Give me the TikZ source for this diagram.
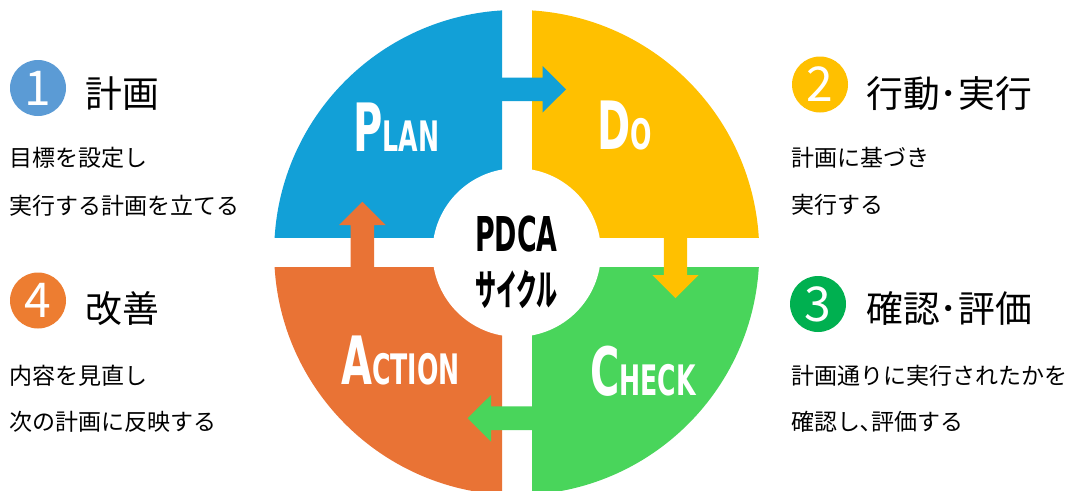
\documentclass[tikz,border=0pt]{standalone}
\usepackage{fontspec}
\usepackage{graphicx}
\newfontfamily\jp{Noto Sans CJK JP}
\newfontfamily\dv{DejaVu Sans}
\definecolor{qblue}{HTML}{12A0D7}
\definecolor{qyellow}{HTML}{FFC000}
\definecolor{qgreen}{HTML}{49D55B}
\definecolor{qorange}{HTML}{E97335}
\definecolor{dblue}{HTML}{5B9BD5}
\definecolor{dyellow}{HTML}{FFC000}
\definecolor{dgreen}{HTML}{00B050}
\definecolor{dorange}{HTML}{ED7D31}
\newcommand\capbig[1]{{\fontsize{50pt}{50pt}\selectfont #1}}
\newcommand\capsmall[1]{{\fontsize{31.5pt}{31.5pt}\selectfont #1}}
\newcommand\qword[1]{\scalebox{0.6}[1]{\dv\bfseries #1}}
\tikzset{
  body/.style={anchor=base west, inner sep=0pt, font=\jp\fontsize{17.25pt}{17.25pt}\selectfont},
  heading/.style={anchor=base west, inner sep=0pt, font=\jp\fontsize{27.6pt}{27.6pt}\selectfont},
  numdisc/.style={circle, minimum size=42pt, inner sep=0pt, text=white, font=\jp\fontsize{36pt}{36pt}\selectfont},
  qlabel/.style={anchor=base west, inner sep=0pt, text=white},
  centertext/.style={anchor=base, inner sep=0pt, text=black},
}
\begin{document}
\begin{tikzpicture}[x=0.75pt,y=-0.75pt]
\useasboundingbox (0,0) rectangle (1074,490);
\fill[white] (0,0) rectangle (1074,490);
% quadrants
\begin{scope}
  \clip (0,0) rectangle (502,237.5);
  \fill[qblue] (516.7,252.5) circle[radius=181.9pt];
\end{scope}
\begin{scope}
  \clip (532,0) rectangle (1074,237.5);
  \fill[qyellow] (516.7,252.5) circle[radius=181.9pt];
\end{scope}
\begin{scope}
  \clip (532,267.5) rectangle (1074,490);
  \fill[qgreen] (516.7,252.5) circle[radius=181.9pt];
\end{scope}
\begin{scope}
  \clip (0,267.5) rectangle (502,490);
  \fill[qorange] (516.7,252.5) circle[radius=181.9pt];
\end{scope}
\fill[white] (516.7,252.5) circle[radius=63.2pt];
% arrows
\fill[qblue] (500,77.5) -- (542.5,77.5) -- (542.5,66) -- (566,89.3) -- (542.5,112.6) -- (542.5,101) -- (500,101) -- cycle;
\fill[qyellow] (663.8,235) -- (663.8,275) -- (652.3,275) -- (675.5,298.2) -- (698.7,275) -- (687.2,275) -- (687.2,235) -- cycle;
\fill[qgreen] (534,406.4) -- (491,406.4) -- (491,395) -- (467.7,418.2) -- (491,441.5) -- (491,430) -- (534,430) -- cycle;
\fill[qorange] (350.6,270) -- (350.6,225) -- (339.2,225) -- (362.4,201.8) -- (385.6,225) -- (374.2,225) -- (374.2,270) -- cycle;
% quadrant labels
\node[qlabel] (plan) at (353,151.7) {\qword{\capbig{P}\capsmall{LAN}}};
\node[qlabel] (do) at (597,149.5) {\qword{\capbig{D}\capsmall{O}}};
\node[qlabel] (action) at (341,384.3) {\qword{\capbig{A}\capsmall{CTION}}};
\node[qlabel] (check) at (590,395.5) {\qword{\capbig{C}\capsmall{HECK}}};
% centre text
\node[centertext] (pdca) at (516.5,251.7) {\scalebox{0.56}[1]{\dv\bfseries\fontsize{36pt}{36pt}\selectfont PDCA}};
\node[centertext] (cycle) at (516.5,305) {\scalebox{0.5}[1]{\jp\bfseries\fontsize{31.5pt}{31.5pt}\selectfont サイクル}};
% number discs
\node[numdisc, fill=dblue] (n1) at (38,88) {1};
\node[numdisc, fill=dyellow] (n2) at (820,84.5) {2};
\node[numdisc, fill=dgreen] (n3) at (818,304) {3};
\node[numdisc, fill=dorange] (n4) at (38,300.5) {4};
% headings
\node[heading] (h1) at (85,107.5) {計画};
\node[heading] (h2) at (866,107.5) {行動･実行};
\node[heading] (h3) at (866,322.5) {確認･評価};
\node[heading] (h4) at (85,322.5) {改善};
% body texts
\node[body] (t1a) at (9,166) {目標を設定し};
\node[body] (t1b) at (9,214) {実行する計画を立てる};
\node[body] (t2a) at (791,166) {計画に基づき};
\node[body] (t2b) at (791,213) {実行する};
\node[body] (t3a) at (791,384) {計画通りに実行されたかを};
\node[body] (t3b) at (791,430) {確認し､評価する};
\node[body] (t4a) at (9,384) {内容を見直し};
\node[body] (t4b) at (9,430) {次の計画に反映する};
\end{tikzpicture}
\end{document}
